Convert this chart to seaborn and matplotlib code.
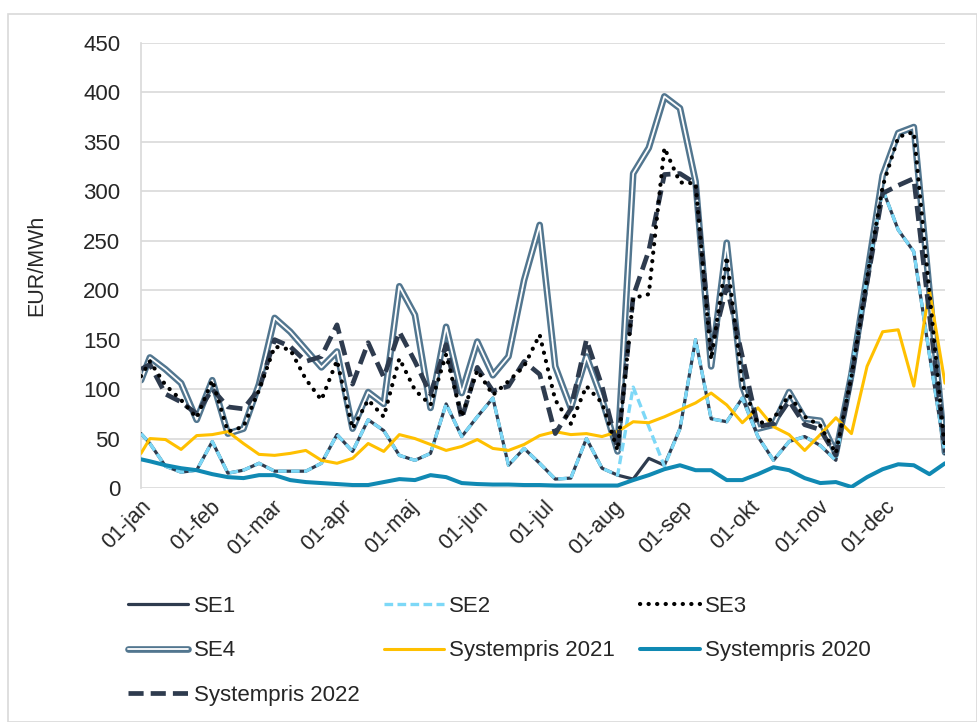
import numpy as np
import pandas as pd
import matplotlib
matplotlib.use("Agg")
import matplotlib.pyplot as plt
import matplotlib.patheffects as pe
from matplotlib.patches import Rectangle
import seaborn as sns

# ---------------- data ----------------
week_dates = [pd.Timestamp("2022-01-01")] + list(pd.date_range("2022-01-05", periods=52, freq="7D"))

month_starts = list(pd.date_range("2022-01-01", periods=12, freq="MS"))
month_labels = ["01-jan", "01-feb", "01-mar", "01-apr", "01-maj", "01-jun",
                "01-jul", "01-aug", "01-sep", "01-okt", "01-nov", "01-dec"]

se1 = [55, 45, 22, 16, 18, 47, 15, 18, 25, 17, 17, 17, 25, 54, 37, 69, 58, 33, 28, 35,
       85, 52, 72, 91, 23, 40, 25, 9, 10, 50, 20, 13, 9, 30, 23, 60, 150, 70, 67, 91,
       52, 28, 47, 52, 43, 28, 119, 214, 302, 261, 239, 135, 35]
se2 = [55, 45, 22, 16, 18, 47, 15, 18, 25, 17, 17, 17, 25, 54, 37, 69, 58, 33, 28, 35,
       85, 52, 72, 91, 23, 40, 25, 9, 10, 50, 20, 13, 102, 62, 22, 60, 150, 70, 67, 91,
       52, 28, 47, 52, 43, 28, 119, 214, 302, 261, 239, 135, 35]
se3 = [113, 128, 104, 89, 71, 109, 57, 62, 99, 143, 140, 110, 89, 129, 60, 89, 72, 131, 99, 84,
       135, 72, 119, 94, 108, 123, 155, 89, 65, 103, 86, 38, 192, 196, 344, 309, 308, 130, 234, 105,
       65, 70, 94, 72, 63, 35, 113, 212, 305, 355, 360, 198, 38]
se4 = [109, 132, 120, 106, 69, 109, 55, 60, 105, 172, 158, 140, 122, 138, 60, 97, 85, 204, 175, 81,
       163, 96, 148, 114, 133, 210, 266, 123, 81, 133, 90, 37, 318, 344, 396, 384, 310, 123, 248, 103,
       60, 64, 97, 70, 68, 35, 115, 215, 316, 359, 365, 200, 36]
sys2021 = [35, 50, 49, 39, 53, 54, 57, 45, 34, 33, 35, 38, 28, 25, 30, 45, 37, 54, 50, 44,
           38, 42, 49, 40, 38, 44, 53, 57, 54, 55, 52, 57, 67, 66, 72, 79, 86, 96, 84, 66,
           81, 62, 54, 38, 54, 71, 55, 123, 158, 160, 103, 200, 106]
sys2020 = [29, 27, 23, 20, 18, 14, 11, 10, 13, 13, 8, 6, 5, 4, 3, 3, 6, 9, 8, 13,
           11, 5, 4, 3.5, 3.5, 3, 3, 2.5, 2.5, 2.5, 2.5, 2.5, 8, 13, 19, 23, 18, 18, 8, 8,
           14, 21, 18, 10, 5, 6, 1, 11, 19, 24, 23, 14, 25]
sys2022 = [120, 125, 95, 87, 75, 100, 82, 80, 100, 150, 143, 128, 133, 165, 105, 147, 112, 158, 128, 95,
           145, 70, 122, 98, 103, 128, 115, 55, 80, 150, 103, 40, 194, 240, 317, 318, 308, 140, 204, 133,
           62, 65, 88, 64, 59, 33, 112, 208, 298, 306, 313, 175, 40]

y_ticks = [0, 50, 100, 150, 200, 250, 300, 350, 400, 450]

# ---------------- style ----------------
sns.set_style("white")
plt.rcParams["font.family"] = ["Liberation Sans", "DejaVu Sans"]

fig = plt.figure(figsize=(9.78, 7.22), dpi=100)
fig.patch.set_facecolor("white")
fig.patches.append(Rectangle((8 / 978, 0.0), 1 - 9 / 978, 1 - 14 / 722, transform=fig.transFigure,
                             fill=False, edgecolor="#d9d9d9", linewidth=1.2))

ax = fig.add_axes([141 / 978, 1 - 488 / 722, (945 - 141) / 978, (488 - 43) / 722])

df = pd.DataFrame({"date": week_dates, "SE1": se1, "SE2": se2, "SE3": se3, "SE4": se4,
                   "Systempris 2021": sys2021, "Systempris 2020": sys2020,
                   "Systempris 2022": sys2022})

navy = "#2E3B4E"
handles = {}

def draw(col, color, lw, dashes=None, capstyle="butt", z=2, effects=None):
    sns.lineplot(data=df, x="date", y=col, ax=ax, color=color, linewidth=lw, label=col,
                 legend=False, zorder=z)
    ln = ax.lines[-1]
    if dashes is not None:
        ln.set_dashes(dashes)
    ln.set_dash_capstyle(capstyle)
    ln.set_solid_joinstyle("round")
    if effects is not None:
        ln.set_path_effects(effects)
    handles[col] = ln

draw("SE4", "white", 1.3, z=2,
     effects=[pe.Stroke(linewidth=4.8, foreground="#52768F"), pe.Normal()])
draw("SE1", navy, 2.3, z=3)
draw("SE2", "#7DD8F7", 2.4, dashes=(2.6, 1.3), z=4)
draw("Systempris 2021", "#FFC000", 2.2, z=5)
draw("Systempris 2020", "#1089B3", 2.9, z=6)
draw("Systempris 2022", navy, 3.4, dashes=(3.2, 1.5), z=7)
draw("SE3", "black", 3.0, dashes=(0.05, 2.0), capstyle="round", z=8)

ax.set_ylim(0, 450)
ax.set_xlim(week_dates[0], week_dates[-1])
ax.set_yticks(y_ticks)
ax.set_yticklabels([str(v) for v in y_ticks])
ax.set_xticks(month_starts)
ax.set_xticklabels(month_labels, rotation=45, ha="right", rotation_mode="anchor")

ax.grid(axis="y", color="#d9d9d9", linewidth=1.2)
ax.grid(axis="x", visible=False)
ax.set_axisbelow(True)
for s in ["top", "right", "bottom"]:
    ax.spines[s].set_visible(False)
ax.spines["left"].set_color("#d9d9d9")
ax.spines["left"].set_linewidth(1.2)

ax.tick_params(axis="y", labelsize=16, length=6, color="#d9d9d9", width=1.2, pad=9,
               labelcolor="#262626")
ax.tick_params(axis="x", labelsize=15.5, length=0, pad=6, labelcolor="#262626")
ax.set_xlabel("")
ax.set_ylabel("EUR/MWh", fontsize=15.5, color="#262626", labelpad=26)

order = ["SE1", "SE4", "Systempris 2022", "SE2", "Systempris 2021", "SE3", "Systempris 2020"]
fig.legend([handles[k] for k in order], order, loc="upper left",
           bbox_to_anchor=(128 / 978, 1 - 596 / 722), bbox_transform=fig.transFigure,
           ncol=3, frameon=False, fontsize=16, handlelength=2.7, handletextpad=0.25,
           columnspacing=1.1, labelspacing=1.05, borderaxespad=0, borderpad=0,
           labelcolor="#262626")

fig.savefig("out.png", dpi=100, facecolor="white")
